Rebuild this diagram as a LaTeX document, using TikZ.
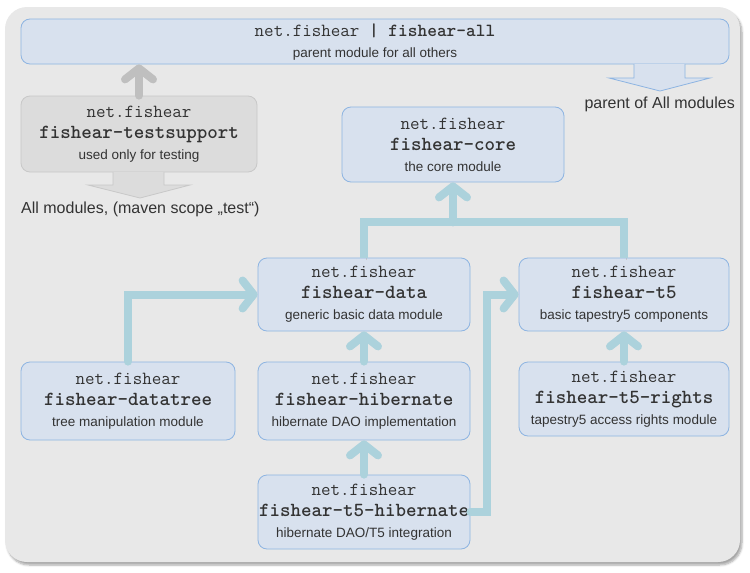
\documentclass[tikz,border=0pt]{standalone}
\usepackage{fontspec}
\setmainfont{Liberation Sans}
\usetikzlibrary{arrows.meta,shadows.blur,calc}

\definecolor{bggray}{HTML}{E8E8E8}
\definecolor{boxfill}{HTML}{D8E1EE}
\definecolor{boxline}{HTML}{8DB4E2}
\definecolor{depblue}{HTML}{ACD2DC}
\definecolor{txtgray}{HTML}{333333}
\definecolor{testfill}{HTML}{DCDCDC}
\definecolor{testline}{HTML}{C8C8C8}

\newcommand{\grp}{{\fontsize{18.5}{21}\ttfamily net.fishear}}
\newcommand{\art}[1]{{\fontsize{20}{21}\ttfamily\bfseries #1}}

\tikzset{
  module/.style={draw=boxline, fill=boxfill, rounded corners=9pt, line width=0.8pt,
    align=center, inner sep=0pt, text=txtgray, font=\fontsize{13.5}{21}\selectfont},
  wh/.style 2 args={minimum width=#1pt, minimum height=#2pt},
  dep/.style={draw=depblue, line width=8pt, line cap=round,
    -{Straight Barb[length=11pt,width=28pt,round]},
    preaction={draw=black!30, opacity=0.5, transform canvas={shift={(2pt,-2.5pt)}}}},
  depline/.style={draw=depblue, line width=8pt,
    preaction={draw=black!30, opacity=0.5, transform canvas={shift={(2pt,-2.5pt)}}}},
  note/.style={text=txtgray, font=\fontsize{16}{20}\selectfont, inner sep=0pt}
}

\begin{document}
\begin{tikzpicture}[x=1pt, y=-1pt]
  \useasboundingbox (0,0) rectangle (750,573);
  \fill[bggray, rounded corners=22pt,
    blur shadow={shadow xshift=2pt, shadow yshift=-3pt, shadow blur steps=6, shadow opacity=35}]
    (5,7) rectangle (740,562);

  % modules
  \node[module, wh={708}{45}] (all) at (375,41.5)
    {{\fontsize{18.5}{21}\ttfamily net.fishear \bfseries| fishear-all}\\parent module for all others};
  \node[module, wh={236}{76}, fill=testfill, draw=testline] (test) at (139,134)
    {\grp\\\art{fishear-testsupport}\\used only for testing};
  \node[module, wh={222}{75}] (core) at (453,144.5)
    {\grp\\\art{fishear-core}\\the core module};
  \node[module, wh={212}{73}] (data) at (364,294.5)
    {\grp\\\art{fishear-data}\\generic basic data module};
  \node[module, wh={210}{73}] (t5) at (624,294.5)
    {\grp\\\art{fishear-t5}\\basic tapestry5 components};
  \node[module, wh={214}{78}] (tree) at (128,401)
    {\grp\\\art{fishear-datatree}\\tree manipulation module};
  \node[module, wh={212}{78}] (hib) at (364,401)
    {\grp\\\art{fishear-hibernate}\\hibernate DAO implementation};
  \node[module, wh={212}{74}] (t5hib) at (364,512)
    {\grp\\\art{fishear-t5-hibernate}\\hibernate DAO/T5 integration};
  \node[module, wh={210}{74}] (rights) at (624,399)
    {\grp\\\art{fishear-t5-rights}\\tapestry5 access rights module};

  % block arrows and their notes
  \filldraw[fill=testfill, draw=testline, line width=0.8pt]
    (113,172) -- (113,185) -- (88,185) -- (140,198) -- (190,185) -- (164,185) -- (164,172);
  \node[note, anchor=west] (testnote) at (21,209) {All modules, (maven scope „test“)};
  \filldraw[fill=boxfill, draw=boxline, line width=0.8pt]
    (634,64) -- (634,78) -- (609,78) -- (660,91) -- (710,78) -- (685,78) -- (685,64);
  \node[note, anchor=east] (allnote) at (735,104) {parent of All modules};

  % dependencies
  \draw[dep, draw=black!25] (test.north) -- (all.south -| test.north);
  \draw[dep] (tree.north) |- (data.west);
  \draw[dep] (hib.north) -- (data.south);
  \draw[dep] (t5hib.north) -- (hib.south);
  \draw[dep] (t5hib.east) -- ++(17,0) |- (t5.west);
  \draw[dep] (rights.north) -- (t5.south);
  \coordinate (join) at ($(core.south)+(0,40)$);
  \draw[depline] (data.north) |- (join) -| (t5.north);
  \draw[dep] (join) -- (core.south);
\end{tikzpicture}
\end{document}
